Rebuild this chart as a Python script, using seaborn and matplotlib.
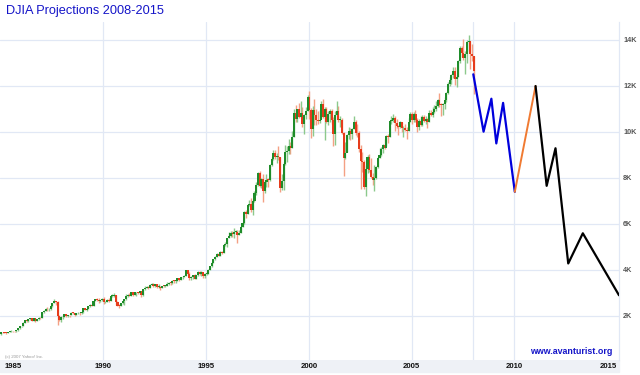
# ── 1. IMPORTS ───────────────────────────────────────────────
import numpy as np
import pandas as pd
import matplotlib
matplotlib.use("Agg")
import matplotlib.pyplot as plt
from matplotlib.patches import Rectangle
from matplotlib.ticker import FuncFormatter
from matplotlib.transforms import ScaledTranslation
import seaborn as sns


# ── 2. DATA ──────────────────────────────────────────────────
# DJIA monthly candles, Jan 1985 .. Jan 2008 (one row per year)
START_YEAR = 1985
FIRST_OPEN = 1211.6

closes = [
    1286.8, 1284.0, 1266.8, 1258.1, 1315.4, 1335.5, 1347.5, 1334.0, 1328.6, 1374.3, 1472.1, 1546.7,
    1570.9, 1709.1, 1818.6, 1784.0, 1876.7, 1892.7, 1775.3, 1898.3, 1767.6, 1877.8, 1914.2, 1896.0,
    2158.0, 2224.0, 2304.7, 2286.4, 2291.6, 2418.5, 2572.1, 2663.0, 2596.3, 1993.5, 1833.6, 1938.8,
    1958.2, 2071.6, 1988.1, 2032.3, 2031.1, 2141.7, 2128.7, 2031.7, 2112.9, 2148.7, 2114.5, 2168.6,
    2342.3, 2258.4, 2293.6, 2418.8, 2480.2, 2440.1, 2660.7, 2737.3, 2692.8, 2645.1, 2706.3, 2753.2,
    2590.5, 2627.3, 2707.2, 2656.8, 2876.7, 2880.7, 2905.2, 2614.4, 2452.5, 2442.3, 2559.7, 2633.7,
    2736.4, 2882.2, 2913.9, 2887.9, 3027.5, 2906.8, 3024.8, 3043.6, 3016.8, 3069.1, 2894.7, 3168.8,
    3223.4, 3267.7, 3235.5, 3359.1, 3396.9, 3318.5, 3393.8, 3257.4, 3271.7, 3226.3, 3305.2, 3301.1,
    3310.0, 3370.8, 3435.1, 3427.6, 3527.4, 3516.1, 3539.5, 3651.3, 3555.1, 3680.6, 3684.0, 3754.1,
    3978.4, 3832.0, 3636.0, 3681.7, 3758.4, 3625.0, 3764.5, 3913.4, 3843.2, 3908.1, 3739.2, 3834.4,
    3843.9, 4011.1, 4157.7, 4321.3, 4465.1, 4556.1, 4708.5, 4610.6, 4789.1, 4755.5, 5074.5, 5117.1,
    5395.3, 5485.6, 5587.1, 5569.1, 5643.2, 5654.6, 5528.9, 5616.2, 5882.2, 6029.4, 6521.7, 6448.3,
    6813.1, 6877.7, 6583.5, 7009.0, 7331.0, 7672.8, 8222.6, 7622.4, 7945.3, 7442.1, 7823.1, 7908.3,
    7906.5, 8545.7, 8799.8, 9063.4, 8900.0, 8952.0, 8883.3, 7539.1, 7842.6, 8592.1, 9116.6, 9181.4,
    9358.8, 9306.6, 9786.2, 10789.0, 10559.7, 10970.8, 10655.2, 10829.3, 10337.0, 10729.9, 10877.8, 11497.1,
    10940.5, 10128.3, 10921.9, 10733.9, 10522.3, 10447.9, 10522.0, 11215.1, 10650.9, 10971.1, 10414.5, 10786.9,
    10887.4, 10495.3, 9878.8, 10735.0, 10911.9, 10502.4, 10522.8, 9949.8, 8847.6, 9075.1, 9851.6, 10021.5,
    9920.0, 10106.1, 10403.9, 9946.2, 9925.3, 9243.3, 8736.6, 8663.5, 7591.9, 8397.0, 8896.1, 8341.6,
    8053.8, 7891.1, 7992.1, 8480.1, 8850.3, 8985.4, 9233.8, 9415.8, 9275.1, 9801.1, 9782.5, 10453.9,
    10488.1, 10583.9, 10357.7, 10225.6, 10188.5, 10435.5, 10139.7, 10173.9, 10080.3, 10027.5, 10428.0, 10783.0,
    10489.9, 10766.2, 10503.8, 10192.5, 10467.5, 10275.0, 10640.9, 10481.6, 10568.7, 10440.1, 10805.9, 10717.5,
    10864.9, 10993.4, 11109.3, 11367.1, 11168.3, 11150.2, 11185.7, 11381.2, 11679.1, 12080.7, 12221.9, 12463.2,
    12621.7, 12268.6, 12354.4, 13062.9, 13627.6, 13408.6, 13212.0, 13357.7, 13895.6, 13930.0, 13371.7, 13264.8,
    12650.4,
]

highs = [
    1292, 1307, 1300, 1290, 1320, 1338, 1372, 1356, 1340, 1378, 1476, 1553,
    1576, 1718, 1822, 1857, 1885, 1911, 1909, 1905, 1920, 1880, 1955, 1955,
    2163, 2250, 2344, 2405, 2340, 2450, 2572, 2747, 2662, 2650, 2035, 2000,
    2052, 2077, 2100, 2060, 2040, 2160, 2165, 2140, 2125, 2185, 2160, 2185,
    2345, 2355, 2300, 2420, 2510, 2540, 2660, 2750, 2760, 2800, 2710, 2760,
    2810, 2660, 2750, 2765, 2885, 2950, 3000, 2912, 2660, 2540, 2575, 2660,
    2740, 2960, 2970, 3010, 3030, 3040, 3030, 3060, 3050, 3080, 3070, 3175,
    3290, 3300, 3300, 3380, 3420, 3420, 3400, 3400, 3390, 3290, 3310, 3350,
    3340, 3460, 3490, 3480, 3560, 3560, 3570, 3660, 3660, 3710, 3720, 3800,
    3990, 3990, 3900, 3720, 3790, 3820, 3780, 3950, 3960, 3950, 3880, 3880,
    3900, 4020, 4170, 4330, 4470, 4590, 4740, 4720, 4810, 4840, 5110, 5220,
    5400, 5660, 5690, 5700, 5800, 5740, 5740, 5730, 5900, 6100, 6560, 6600,
    6880, 7050, 7100, 7050, 7420, 7800, 8260, 8300, 8000, 8180, 7900, 8150,
    7980, 8580, 8900, 9210, 9200, 9070, 9370, 8890, 8180, 8680, 9400, 9380,
    9680, 9560, 10040, 11000, 11140, 11000, 11250, 11330, 11080, 10770, 11090, 11570,
    11750, 11040, 11100, 11420, 10980, 10890, 10920, 11330, 11410, 11050, 11050, 10900,
    10990, 11000, 10650, 10880, 11350, 11100, 10700, 10600, 10000, 9560, 9920, 10190,
    10150, 10150, 10670, 10500, 10350, 10020, 9440, 9100, 8750, 8550, 8970, 9040,
    8870, 8200, 8550, 8520, 8900, 9300, 9340, 9450, 9690, 9850, 9880, 10460,
    10700, 10750, 10700, 10570, 10300, 10480, 10400, 10250, 10330, 10200, 10590, 10870,
    10850, 10850, 10950, 10600, 10560, 10680, 10730, 10720, 10680, 10600, 10940, 10950,
    11050, 11140, 11340, 11420, 11670, 11260, 11230, 11500, 11730, 12170, 12360, 12510,
    12800, 12800, 12470, 13130, 13700, 13700, 14020, 13500, 14000, 14200, 13950, 13800,
    13280,
]

lows = [
    1184, 1270, 1247, 1240, 1242, 1298, 1318, 1308, 1298, 1320, 1368, 1457,
    1502, 1563, 1692, 1739, 1750, 1830, 1763, 1763, 1755, 1762, 1836, 1870,
    1896, 2126, 2212, 2215, 2213, 2278, 2390, 2546, 2490, 1616, 1766, 1747,
    1880, 1940, 1978, 1972, 1940, 2025, 2080, 1990, 2025, 2080, 2040, 2090,
    2145, 2240, 2220, 2285, 2370, 2430, 2440, 2640, 2660, 2560, 2600, 2670,
    2540, 2545, 2610, 2610, 2640, 2830, 2820, 2480, 2430, 2350, 2420, 2540,
    2470, 2710, 2830, 2860, 2860, 2880, 2900, 2860, 2970, 2940, 2840, 2860,
    3140, 3200, 3180, 3200, 3340, 3260, 3270, 3220, 3230, 3120, 3220, 3240,
    3240, 3290, 3340, 3360, 3410, 3450, 3440, 3530, 3530, 3550, 3610, 3680,
    3740, 3810, 3580, 3560, 3620, 3600, 3620, 3740, 3800, 3750, 3660, 3660,
    3800, 3830, 3990, 4140, 4300, 4430, 4560, 4590, 4600, 4690, 4740, 5030,
    5000, 5370, 5420, 5450, 5400, 5560, 5170, 5500, 5600, 5850, 6000, 6240,
    6420, 6760, 6530, 6390, 6950, 7270, 7640, 7590, 7550, 6930, 7350, 7600,
    7580, 7860, 8490, 8760, 8800, 8630, 8790, 7400, 7480, 7470, 8560, 8690,
    9010, 9050, 9270, 9750, 10400, 10410, 10600, 10640, 10220, 9880, 10570, 10880,
    10550, 9730, 9800, 10300, 10300, 10330, 10380, 10590, 10600, 9650, 10370, 10300,
    10400, 10340, 9390, 9400, 10700, 10400, 10200, 9900, 8060, 8800, 9100, 9700,
    9660, 9680, 10100, 9850, 9750, 9100, 7530, 8260, 7500, 7200, 8210, 8260,
    8000, 7680, 7420, 7960, 8420, 8840, 8930, 9060, 9250, 9380, 9520, 9760,
    10350, 10400, 10050, 10150, 9850, 10180, 9980, 9780, 10020, 9700, 10030, 10400,
    10340, 10420, 10400, 10000, 10090, 10250, 10250, 10440, 10340, 10180, 10400, 10670,
    10650, 10810, 10910, 11050, 11050, 10700, 10740, 11000, 11300, 11650, 11970, 12050,
    12340, 12040, 11920, 12370, 12960, 13220, 13100, 12510, 13000, 13500, 12700, 13050,
    11630,
]

# projection path 2008-2015 (year, DJIA)
proj_down_years  = [2008.0, 2008.5, 2008.88, 2009.12, 2009.45, 2010.02]
proj_down_values = [12490, 10000, 11430, 9490, 11250, 7390]
proj_up_years    = [2010.02, 2011.03]
proj_up_values   = [7390, 11980]
proj_crash_years  = [2011.03, 2011.57, 2012.0, 2012.62, 2013.33, 2015.09]
proj_crash_values = [11980, 7650, 9280, 4280, 5590, 2900]

GRID_YEARS  = [1990, 1995, 2000, 2005, 2008, 2010]
LABEL_YEARS = [1985, 1990, 1995, 2000, 2005, 2010, 2015]
Y_TICKS     = [2000, 4000, 6000, 8000, 10000, 12000, 14000]


# ── 3. CANDLE TABLE ──────────────────────────────────────────
n = len(closes)
df = pd.DataFrame({
    "x":     [START_YEAR + i / 12 + 0.02 for i in range(n)],
    "open":  [FIRST_OPEN] + closes[:-1],
    "close": closes,
    "high":  highs,
    "low":   lows,
})
df["up"] = df["close"] >= df["open"]


# ── 4. STYLE ─────────────────────────────────────────────────
sns.set_style("white")
plt.rcParams["font.family"] = ["Liberation Sans", "DejaVu Sans"]

GRID_COL   = "#e1e8f5"
BODY_UP    = "#1f8c2a"
BODY_DOWN  = "#e63c1c"
WICK_UP    = "#8cc98c"
WICK_DOWN  = "#f4a084"
TITLE_BLUE = "#1414c8"

fig = plt.figure(figsize=(6.4, 3.75), dpi=100)
ax = fig.add_axes([0.0, 15 / 375, 619 / 640, 338 / 375])

# label band under the plot (behind the axes)
fig.patches.append(Rectangle((0, 3 / 375), 619 / 640, 12 / 375,
                             transform=fig.transFigure, color="#eef1f6",
                             zorder=-5))


# ── 5. GRID ──────────────────────────────────────────────────
for yr in GRID_YEARS:
    ax.axvline(yr, color=GRID_COL, lw=0.9, zorder=0)
for v in Y_TICKS:
    ax.axhline(v, color=GRID_COL, lw=0.9, zorder=0)


# ── 6. CANDLES ───────────────────────────────────────────────
for up, sub in df.groupby("up"):
    ax.vlines(sub["x"], sub["low"], sub["high"],
              colors=WICK_UP if up else WICK_DOWN, lw=1.0, zorder=1)
    body = (sub["close"] - sub["open"]).abs().clip(lower=30)
    ax.bar(sub["x"], body, bottom=sub[["open", "close"]].min(axis=1),
           width=0.1, color=BODY_UP if up else BODY_DOWN,
           linewidth=0, zorder=2)


# ── 7. PROJECTIONS ───────────────────────────────────────────
sns.lineplot(x=proj_down_years, y=proj_down_values, color="#0000dc",
             lw=1.6, ax=ax, zorder=3)
sns.lineplot(x=proj_up_years, y=proj_up_values, color="#f07a32",
             lw=1.4, ax=ax, zorder=3)
sns.lineplot(x=proj_crash_years, y=proj_crash_values, color="black",
             lw=1.6, ax=ax, zorder=3)


# ── 8. AXES ──────────────────────────────────────────────────
ax.set_xlim(1984.97, 2015.09)
ax.set_ylim(90, 14760)
ax.set_xlabel("")
ax.set_ylabel("")

ax.set_xticks(LABEL_YEARS)
ax.set_xticklabels([str(y) for y in LABEL_YEARS], fontsize=5.6,
                   fontweight="bold", color="#111111")
ax.tick_params(axis="x", length=0, pad=2.5)
xt = ax.get_xticklabels()
xt[0].set_ha("left")
xt[0].set_transform(xt[0].get_transform()
                    + ScaledTranslation(4 / 100, 0, fig.dpi_scale_trans))
xt[-1].set_ha("right")

ax.yaxis.tick_right()
ax.set_yticks(Y_TICKS)
ax.yaxis.set_major_formatter(FuncFormatter(lambda v, _: f"{v / 1000:.0f}K"))
ax.tick_params(axis="y", length=0, pad=3, labelsize=5.2, labelcolor="#555555")
for lbl in ax.get_yticklabels():
    lbl.set_fontweight("bold")

for side in ["top", "left", "bottom"]:
    ax.spines[side].set_visible(False)
ax.spines["right"].set_color(GRID_COL)
ax.spines["right"].set_linewidth(0.9)


# ── 9. TEXT ──────────────────────────────────────────────────
fig.text(6 / 640, 1 - 11 / 375, "DJIA Projections 2008-2015", fontsize=9.2,
         color=TITLE_BLUE, va="center", ha="left")
fig.text(530 / 640, 1 - 352 / 375, "www.avanturist.org", fontsize=6.4,
         fontweight="bold", color=TITLE_BLUE, va="center", ha="left")
fig.text(5 / 640, 1 - 357 / 375, "(c) 2007 Yahoo! Inc.", fontsize=3.2,
         color="#999999", va="center", ha="left")

fig.savefig("out.png", dpi=100)
